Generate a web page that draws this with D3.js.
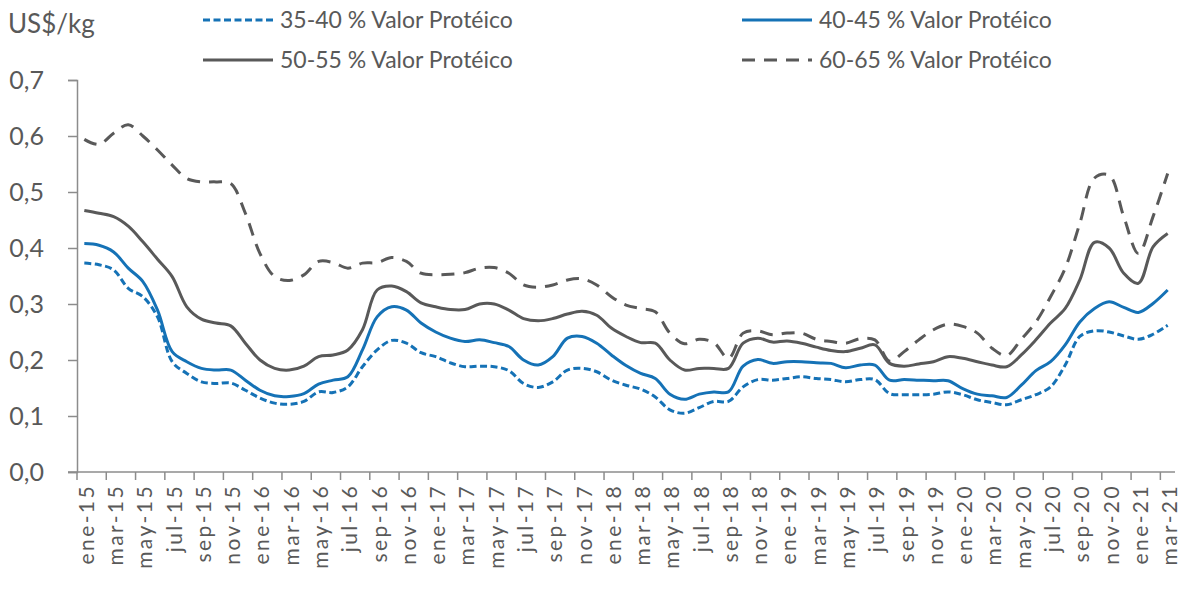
<!DOCTYPE html>
<html>
<head>
<meta charset="utf-8">
<script src="https://cdn.jsdelivr.net/npm/d3@7"></script>
<style>
  body { margin: 0; background: #fff; }
  text { font-family: "Lato", "Noto Sans", sans-serif; fill: #595959; }
</style>
</head>
<body>
<svg id="chart" width="1185" height="593"></svg>
<script>
// categorias: ene-15 ... mar-21
var meses = ["ene", "feb", "mar", "abr", "may", "jun", "jul", "ago", "sep", "oct", "nov", "dic"];
var anios = ["15", "16", "17", "18", "19", "20", "21"];
var categorias = [];
anios.forEach(function (a) {
  meses.forEach(function (m) { categorias.push(m + "-" + a); });
});
categorias = categorias.slice(0, categorias.indexOf("mar-21") + 1);

// US$/kg por mes
var p3540 = [0.373, 0.370, 0.361, 0.328, 0.313, 0.277, 0.197, 0.176, 0.161, 0.158, 0.159, 0.146,
  0.132, 0.123, 0.121, 0.126, 0.143, 0.142, 0.152, 0.188, 0.218, 0.235, 0.230, 0.213,
  0.206, 0.195, 0.188, 0.189, 0.188, 0.181, 0.158, 0.151, 0.161, 0.182, 0.185, 0.179,
  0.164, 0.155, 0.148, 0.134, 0.111, 0.105, 0.115, 0.126, 0.126, 0.152, 0.165, 0.164,
  0.167, 0.170, 0.167, 0.165, 0.161, 0.165, 0.165, 0.140, 0.138, 0.138, 0.139, 0.143,
  0.138, 0.129, 0.124, 0.120, 0.129, 0.138, 0.152, 0.191, 0.242, 0.252, 0.250, 0.243,
  0.237, 0.246, 0.262];
var p4045 = [0.408, 0.405, 0.393, 0.364, 0.340, 0.289, 0.215, 0.197, 0.185, 0.182, 0.182, 0.164,
  0.146, 0.136, 0.135, 0.140, 0.157, 0.164, 0.170, 0.218, 0.277, 0.295, 0.289, 0.266,
  0.250, 0.239, 0.233, 0.236, 0.231, 0.224, 0.200, 0.191, 0.206, 0.239, 0.242, 0.230,
  0.209, 0.190, 0.176, 0.167, 0.139, 0.130, 0.139, 0.143, 0.143, 0.189, 0.201, 0.194,
  0.197, 0.197, 0.195, 0.194, 0.186, 0.191, 0.191, 0.164, 0.165, 0.164, 0.163, 0.163,
  0.149, 0.139, 0.136, 0.133, 0.155, 0.181, 0.197, 0.227, 0.268, 0.292, 0.304, 0.294,
  0.285, 0.301, 0.325];
var p5055 = [0.467, 0.462, 0.456, 0.439, 0.411, 0.380, 0.349, 0.295, 0.273, 0.266, 0.261, 0.230,
  0.200, 0.185, 0.182, 0.189, 0.206, 0.209, 0.218, 0.254, 0.325, 0.332, 0.322, 0.302,
  0.295, 0.290, 0.290, 0.300, 0.300, 0.289, 0.274, 0.270, 0.274, 0.282, 0.287, 0.280,
  0.257, 0.242, 0.231, 0.230, 0.200, 0.182, 0.185, 0.185, 0.185, 0.230, 0.239, 0.232,
  0.234, 0.230, 0.223, 0.217, 0.215, 0.221, 0.227, 0.194, 0.189, 0.193, 0.197, 0.206,
  0.203, 0.197, 0.191, 0.188, 0.209, 0.236, 0.266, 0.292, 0.343, 0.410, 0.400, 0.355,
  0.337, 0.402, 0.426];
var p6065 = [0.594, 0.585, 0.605, 0.620, 0.600, 0.575, 0.548, 0.524, 0.518, 0.518, 0.515, 0.462,
  0.390, 0.349, 0.342, 0.352, 0.376, 0.374, 0.364, 0.373, 0.374, 0.383, 0.376, 0.355,
  0.352, 0.353, 0.356, 0.364, 0.365, 0.355, 0.334, 0.330, 0.334, 0.343, 0.345, 0.334,
  0.313, 0.298, 0.292, 0.286, 0.248, 0.229, 0.237, 0.231, 0.203, 0.248, 0.252, 0.245,
  0.248, 0.248, 0.237, 0.233, 0.230, 0.238, 0.236, 0.198, 0.215, 0.236, 0.254, 0.264,
  0.260, 0.248, 0.221, 0.208, 0.237, 0.268, 0.313, 0.364, 0.444, 0.525, 0.530, 0.456,
  0.390, 0.456, 0.533];

var yTicks = [0, 0.1, 0.2, 0.3, 0.4, 0.5, 0.6, 0.7];

var series = [
  { name: "35-40 % Valor Protéico", values: p3540, color: "#1572b6", dash: "7,3.5" },
  { name: "40-45 % Valor Protéico", values: p4045, color: "#1572b6", dash: null },
  { name: "50-55 % Valor Protéico", values: p5055, color: "#595959", dash: null },
  { name: "60-65 % Valor Protéico", values: p6065, color: "#595959", dash: "13,9" }
];

var svg = d3.select("#chart");
var mLeft = 77, mRight = 1175, mTop = 80, mBottom = 472;
var ejeColor = "#8c8c8c";

var x = d3.scaleBand().domain(categorias).range([mLeft, mRight]).padding(0);
var y = d3.scaleLinear().domain([0, 0.7]).range([mBottom, mTop]);
var fmt = function (d) { return d3.format(".1f")(d).replace(".", ","); };

// eje Y
var yAxis = svg.append("g")
  .attr("transform", "translate(" + mLeft + ",0)")
  .call(d3.axisLeft(y).tickValues(yTicks).tickFormat(fmt).tickSize(9).tickPadding(24));
yAxis.select(".domain").attr("stroke", ejeColor).attr("stroke-width", 1.5);
yAxis.selectAll(".tick line").attr("stroke", ejeColor).attr("stroke-width", 1.5);
yAxis.selectAll(".tick text").style("font-size", "25px").attr("fill", "#595959");

// eje X: etiquetas cada 2 meses, marcas en los bordes de categoria
var etiquetas = categorias.filter(function (d, i) { return i % 2 === 0; });
var xAxis = svg.append("g")
  .attr("transform", "translate(0," + mBottom + ")")
  .call(d3.axisBottom(x).tickValues(etiquetas).tickSize(0).tickPadding(0));
xAxis.select(".domain").remove();
xAxis.selectAll(".tick line").remove();
xAxis.selectAll(".tick text")
  .style("font-size", "21px")
  .style("letter-spacing", "2.4px")
  .attr("fill", "#595959")
  .attr("transform", "rotate(-90)")
  .attr("text-anchor", "end")
  .attr("dy", "0.45em")
  .attr("x", -12)
  .attr("y", 0);

svg.append("line")
  .attr("x1", mLeft - 9).attr("x2", mRight)
  .attr("y1", mBottom).attr("y2", mBottom)
  .attr("stroke", ejeColor).attr("stroke-width", 1.5);
svg.append("g").selectAll("line")
  .data(etiquetas)
  .join("line")
  .attr("x1", function (d) { return x(d); })
  .attr("x2", function (d) { return x(d); })
  .attr("y1", mBottom).attr("y2", mBottom + 8)
  .attr("stroke", ejeColor).attr("stroke-width", 1.5);

// lineas
var line = d3.line()
  .x(function (d, i) { return x(categorias[i]) + x.bandwidth() / 2; })
  .y(function (d) { return y(d); })
  .curve(d3.curveCatmullRom.alpha(0.5));

series.slice().reverse().forEach(function (s) {
  svg.append("path")
    .datum(s.values)
    .attr("d", line)
    .attr("fill", "none")
    .attr("stroke", s.color)
    .attr("stroke-width", 3)
    .attr("stroke-dasharray", s.dash);
});

// unidad
svg.append("text").attr("x", 8).attr("y", 33).style("font-size", "26px").text("US$/kg");

// leyenda
var leyenda = [
  { s: series[0], x: 203, y: 20 },
  { s: series[1], x: 742, y: 20 },
  { s: series[2], x: 203, y: 60 },
  { s: series[3], x: 742, y: 60 }
];
leyenda.forEach(function (l) {
  svg.append("line")
    .attr("x1", l.x).attr("x2", l.x + 70)
    .attr("y1", l.y).attr("y2", l.y)
    .attr("stroke", l.s.color).attr("stroke-width", 3)
    .attr("stroke-dasharray", l.s.dash);
  svg.append("text")
    .attr("x", l.x + 77).attr("y", l.y).attr("dy", "0.35em")
    .style("font-size", "23px")
    .text(l.s.name);
});
</script>
</body>
</html>
